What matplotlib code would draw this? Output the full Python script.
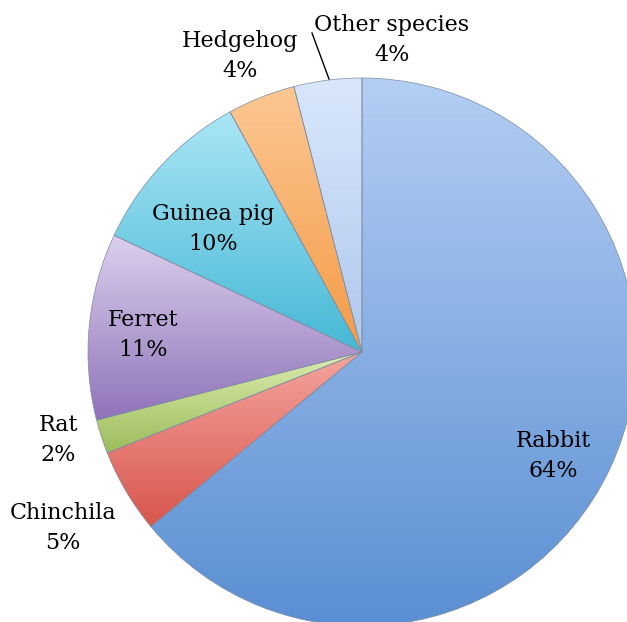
import matplotlib.pyplot as plt
import numpy as np
from matplotlib.colors import LinearSegmentedColormap

# data
species = ["Rabbit", "Chinchila", "Rat", "Ferret", "Guinea pig", "Hedgehog", "Other species"]
shares = [64, 5, 2, 11, 10, 4, 4]

# gradient colours (top, bottom) per slice
colors = [
    ("#b4cef3", "#5a8fd3"),
    ("#f3a59e", "#d8554c"),
    ("#dcedb0", "#9cbc5a"),
    ("#dccfee", "#8f74b9"),
    ("#abe6f6", "#45b8d5"),
    ("#fcc792", "#f49b47"),
    ("#d9e7fb", "#aec8ee"),
]

# label anchor points in pixels (x, y from top)
label_pos = [(553, 456), (63, 528), (58, 440), (143, 335), (213, 229), (240, 56), (392, 40)]

W, H = 627, 622
cx, cy, r = 362, 352, 274

fig = plt.figure(figsize=(W / 100, H / 100), dpi=100)
ax = fig.add_axes([0, 0, 1, 1])

wedges, _ = ax.pie(shares, center=(cx, H - cy), radius=r, startangle=90,
                   counterclock=False, frame=True,
                   wedgeprops=dict(edgecolor="#7d8ca3", linewidth=0.5))

grad = np.linspace(0, 1, 256).reshape(-1, 1)
for w, (top, bot) in zip(wedges, colors):
    w.set_facecolor("none")
    bb = w.get_path().get_extents(w.get_patch_transform())
    cmap = LinearSegmentedColormap.from_list("g", [bot, top])
    im = ax.imshow(grad, cmap=cmap, origin="lower", aspect="auto",
                   extent=(bb.x0, bb.x1, bb.y0, bb.y1), zorder=0.5)
    im.set_clip_path(w)
    w.set_zorder(1)

ax.set_xlim(0, W)
ax.set_ylim(0, H)
ax.set_aspect("equal")
ax.axis("off")

font = dict(family="DejaVu Serif", fontsize=16, color="black",
            ha="center", va="center", linespacing=1.5)
for name, val, (x, y) in zip(species, shares, label_pos):
    ax.text(x, H - y, f"{name}\n{val}%", **font)

# leader line for "Other species"
ax.plot([312, 329], [H - 33, H - 79], color="black", lw=1.0)

fig.savefig("out.png", dpi=100)
